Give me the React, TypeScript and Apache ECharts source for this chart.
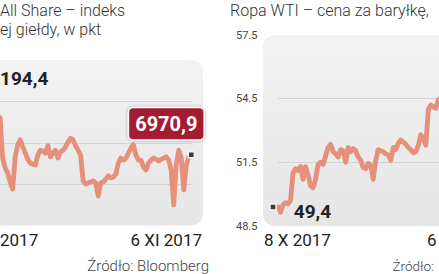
import React, { useEffect, useRef } from "react";
import * as echarts from "echarts";

const leftTitle = ["All Share – indeks", "ej giełdy, w pkt"];
const rightTitle = "Ropa WTI – cena za baryłkę,";
const leftStartLabel = "194,4";
const leftDates = ["2017", "6 XI 2017"];
const rightDates = ["8 X 2017", "6"];
const sourceTexts = ["Źródło: Bloomberg", "Źródło:"];

// Tadawul All Share (pkt), 8 X – 6 XI 2017
const leftValues = [
  7194.4, 7150, 7120, 7100, 7080, 7090, 7070, 7065, 7060, 6963,
  6939, 6927, 6905, 6888, 6966, 6995, 7007, 6990, 6975, 6960,
  6951, 6948, 6946, 6970, 6982, 6980, 6975, 6993, 6966, 6975,
  6982, 6963, 6978, 6982, 6990, 7002, 7011, 7007, 6993, 6982,
  6970, 6908, 6900, 6903, 6905, 6908, 6903, 6871, 6903, 6905,
  6912, 6920, 6915, 6917, 6924, 6951, 6963, 6958, 6963, 6975,
  6987, 6995, 6970, 6958, 6958, 6941, 6934, 6951, 6958, 6963,
  6960, 6956, 6960, 6963, 6966, 6958, 6934, 6850, 6946, 6982,
  6963, 6886, 6946, 6966, 6970.9,
];

// Ropa WTI (USD/baryłka), 8 X – 6 XI 2017
const rightValues = [
  49.4, 49.15, 49.5, 49.6, 49.55, 49.7, 51.0, 51.2, 51.1, 51.3,
  50.7, 51.3, 50.9, 50.4, 50.3, 50.7, 51.4, 51.5, 51.4, 51.8,
  52.2, 52.35, 52.0, 51.9, 51.75, 52.1, 52.05, 51.5, 52.2, 52.0,
  52.15, 52.05, 51.75, 51.6, 51.25, 51.2, 51.45, 51.35, 50.7, 51.6,
  52.1, 52.05, 52.0, 51.9, 51.85, 51.6, 52.2, 52.1, 52.4, 52.55,
  52.45, 52.35, 52.2, 52.1, 51.95, 52.0, 52.3, 52.8, 52.6, 52.3,
  54.0, 54.2, 54.1, 54.05, 54.45, 54.4, 54.3, 54.2, 54.35, 54.5,
  54.4, 54.3, 54.5, 54.6, 54.5, 55.0, 55.6, 55.5, 55.7, 55.6,
  56.0, 56.5, 56.8, 57.1, 57.35,
];

const leftAxis = { min: 6800, max: 7200, interval: 100 };
const rightAxis = { min: 48.5, max: 57.5, interval: 3 };

const LINE = "#e4907a";
const FONT = "Roboto";

const fmt = (v: number) => v.toFixed(1).replace(".", ",");

// panel geometry (pixels): left panel data spans -20..191.3, right 278..488.5
const LEFT_STEP = 211.3 / (leftValues.length - 1);
const RIGHT_STEP = 210.5 / (rightValues.length - 1);

export default function App() {
  const ref = useRef<HTMLDivElement>(null);
  useEffect(() => {
    if (!ref.current) return;
    const chart = echarts.init(ref.current, undefined, { renderer: "svg" });
    const bg = () =>
      new echarts.graphic.LinearGradient(0, 0, 0, 1, [
        { offset: 0, color: "#f2f2f2" },
        { offset: 1, color: "#e6e6e6" },
      ]);
    const markerStyle = { color: "#3a3a3a", borderColor: "#f4f4f4", borderWidth: 1.5 };
    const splitLine = {
      show: true,
      showMinLine: false,
      showMaxLine: false,
      lineStyle: { color: "#d3d3d3", width: 1 },
    };
    const txt = (
      text: string,
      x: number,
      y: number,
      size: number,
      weight: any,
      fill: string,
      align = "left"
    ) => ({
      type: "text",
      x,
      y,
      z: 10,
      style: {
        text,
        fontSize: size,
        fontFamily: FONT,
        fontWeight: weight,
        fill,
        align,
        textAlign: align,
        verticalAlign: "middle",
        textVerticalAlign: "middle",
      },
    });
    const leftVisibleW = 191.3;
    const rightVisibleW = 439 - 278;
    const option: any = {
      animation: false,
      backgroundColor: "#ffffff",
      grid: [
        { left: 0, top: 60, width: leftVisibleW, height: 165.5 },
        { left: 278, top: 35, width: rightVisibleW, height: 191 },
      ],
      xAxis: [
        {
          gridIndex: 0,
          type: "value",
          min: 20 / LEFT_STEP,
          max: leftValues.length - 1,
          show: false,
        },
        {
          gridIndex: 1,
          type: "value",
          min: 0,
          max: rightVisibleW / RIGHT_STEP,
          show: false,
        },
      ],
      yAxis: [
        {
          gridIndex: 0,
          type: "value",
          ...leftAxis,
          axisLine: { show: false },
          axisTick: { show: false },
          axisLabel: { show: false },
          splitLine,
        },
        {
          gridIndex: 1,
          type: "value",
          ...rightAxis,
          axisLine: { show: false },
          axisTick: { show: false },
          axisLabel: {
            show: true,
            align: "left",
            margin: 42,
            fontSize: 11,
            fontFamily: FONT,
            color: "#444",
            formatter: (v: number) => v.toFixed(1),
          },
          splitLine,
        },
      ],
      series: [
        {
          type: "line",
          xAxisIndex: 0,
          yAxisIndex: 0,
          showSymbol: true,
          showAllSymbol: true,
          symbol: "none",
          clip: true,
          lineStyle: { color: LINE, width: 4.8, join: "round", cap: "round" },
          z: 3,
          data: leftValues.map((v, i) =>
            i === leftValues.length - 1
              ? {
                  value: [i, v],
                  symbol: "rect",
                  symbolSize: 6,
                  itemStyle: markerStyle,
                  label: {
                    show: true,
                    position: "inside",
                    offset: [-25, -31],
                    formatter: (p: any) => fmt(p.value[1]),
                    color: "#fff",
                    fontSize: 20,
                    fontWeight: "bold",
                    fontFamily: FONT,
                    backgroundColor: "#a51d31",
                    borderColor: "#ffffff",
                    borderWidth: 1.5,
                    borderRadius: 4,
                    padding: [6, 6, 5, 6],
                    shadowColor: "rgba(0,0,0,0.35)",
                    shadowBlur: 3,
                  },
                }
              : [i, v]
          ),
        },
        {
          type: "line",
          xAxisIndex: 1,
          yAxisIndex: 1,
          showSymbol: true,
          showAllSymbol: true,
          symbol: "none",
          clip: true,
          lineStyle: { color: LINE, width: 4.8, join: "round", cap: "round" },
          z: 3,
          data: rightValues.map((v, i) =>
            i === 0
              ? {
                  value: [i, v],
                  symbol: "rect",
                  symbolSize: 6,
                  symbolOffset: [-5, 0],
                  itemStyle: markerStyle,
                  label: {
                    show: true,
                    position: "right",
                    distance: 17,
                    offset: [0, 5],
                    formatter: (p: any) => fmt(p.value[1]),
                    color: "#222",
                    fontSize: 19,
                    fontWeight: "bold",
                    fontFamily: FONT,
                  },
                }
              : [i, v]
          ),
        },
      ],
      graphic: [
        {
          type: "rect",
          z: -10,
          shape: { x: -20, y: 60, width: 223, height: 165.5, r: 12 },
          style: { fill: bg() },
        },
        {
          type: "rect",
          z: -10,
          shape: { x: 263, y: 35, width: 260, height: 191, r: 12 },
          style: { fill: bg() },
        },
        txt(leftTitle[0], 0, 10, 16, 300, "#333"),
        txt(leftTitle[1], 0, 29, 16, 300, "#333"),
        txt(rightTitle, 230, 10, 16, 300, "#333"),
        txt(leftStartLabel, 0, 78.5, 19, "bold", "#222"),
        txt(leftDates[0], 0, 240, 17, 400, "#222"),
        txt(leftDates[1], 202, 240, 17, 400, "#222", "right"),
        txt(rightDates[0], 264, 240, 17, 400, "#222"),
        txt(rightDates[1], 427, 240, 17, 400, "#222"),
        txt(sourceTexts[0], 209, 266, 15, 300, "#444", "right"),
        txt(sourceTexts[1], 434, 266, 13.5, 300, "#444", "right"),
      ],
    };
    chart.setOption(option);
    return () => chart.dispose();
  }, []);
  return (
    <div
      ref={ref}
      style={{ position: "fixed", left: 0, top: 0, width: 439, height: 274, background: "#fff" }}
    />
  );
}
